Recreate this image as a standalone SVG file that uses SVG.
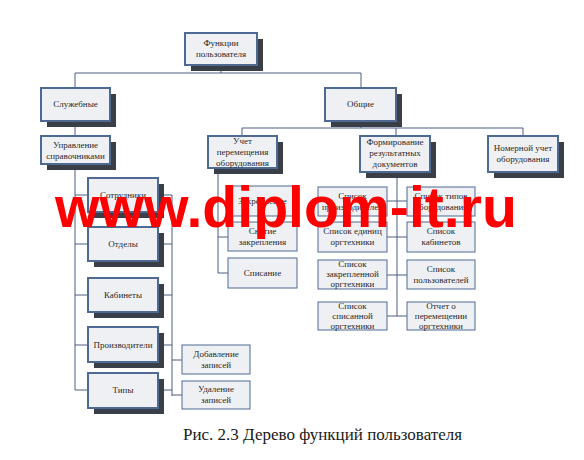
<svg xmlns="http://www.w3.org/2000/svg" width="584" height="460" viewBox="0 0 584 460">
<style>
.sh{fill:#3a3e47}
.bx{fill:#eef0f4;stroke:#4f6a92;stroke-width:2}
.lf{fill:#eef0f4;stroke:#4f6a92;stroke-width:1}
.t{font-family:"Liberation Serif","DejaVu Serif",serif;font-size:9px;fill:#2a2a2a;text-anchor:middle}
.ln{stroke:#4a5f80;stroke-width:1;fill:none}
</style>
<rect width="584" height="460" fill="#ffffff"/>
<g id="connectors" class="ln">
<path d="M221 65V73M75 73H361M75 73V88M361 73V88"/>
<path d="M75 121V136M361 121V128M242 128H523M242 128V136M396 128V136M523 128V136"/>
<path d="M75 164V390M75 195H88M75 244H88M75 295H88M75 345H88M75 390H88"/>
<path d="M164 195H172M164 244H172M164 295H172M164 345H172M164 390H172M172 195V396M172 360H182M172 395H182"/>
<path d="M218 174V273M218 201H228M218 237H228M218 273H228"/>
<path d="M397 178V316M387 201H407M387 237H407M387 275H407M387 316H407"/>
</g>
<g id="n_root"><rect class="sh" x="191" y="39" width="72" height="32"/><rect class="bx" x="185" y="33" width="72" height="32"/><text class="t" x="221" y="46">Функции</text><text class="t" x="221" y="57">пользователя</text></g>
<g id="n_sluzh"><rect class="sh" x="47" y="94" width="69" height="33"/><rect class="bx" x="41" y="88" width="69" height="33"/><text class="t" x="75.5" y="107">Служебные</text></g>
<g id="n_obsh"><rect class="sh" x="331" y="94" width="71" height="33"/><rect class="bx" x="325" y="88" width="71" height="33"/><text class="t" x="360.5" y="107">Общие</text></g>
<g id="n_upr"><rect class="sh" x="47" y="142" width="69" height="28"/><rect class="bx" x="41" y="136" width="69" height="28"/><text class="t" x="75.5" y="148">Управление</text><text class="t" x="75.5" y="159">справочниками</text></g>
<g id="n_uchet"><rect class="sh" x="214" y="142" width="69" height="32"/><rect class="bx" x="208" y="136" width="69" height="32"/><text class="t" x="242.5" y="144">Учет</text><text class="t" x="242.5" y="155">перемещения</text><text class="t" x="242.5" y="166">оборудования</text></g>
<g id="n_form"><rect class="sh" x="366" y="142" width="70" height="36"/><rect class="bx" x="360" y="136" width="70" height="36"/><text class="t" x="395" y="145">Формирование</text><text class="t" x="395" y="156">результатных</text><text class="t" x="395" y="167">документов</text></g>
<g id="n_nomer"><rect class="sh" x="494" y="142" width="70" height="36"/><rect class="bx" x="488" y="136" width="70" height="36"/><text class="t" x="523" y="151">Номерной учет</text><text class="t" x="523" y="162">оборудования</text></g>
<g id="n_sotr"><rect class="sh" x="94" y="184" width="70" height="34"/><rect class="bx" x="88" y="178" width="70" height="34"/><text class="t" x="123" y="198">Сотрудники</text></g>
<g id="n_otd"><rect class="sh" x="94" y="233" width="70" height="34"/><rect class="bx" x="88" y="227" width="70" height="34"/><text class="t" x="123" y="247">Отделы</text></g>
<g id="n_kab"><rect class="sh" x="94" y="284" width="70" height="34"/><rect class="bx" x="88" y="278" width="70" height="34"/><text class="t" x="123" y="298">Кабинеты</text></g>
<g id="n_proizv"><rect class="sh" x="94" y="333" width="70" height="35"/><rect class="bx" x="88" y="327" width="70" height="35"/><text class="t" x="123" y="348">Производители</text></g>
<g id="n_tipy"><rect class="sh" x="94" y="379" width="70" height="35"/><rect class="bx" x="88" y="373" width="70" height="35"/><text class="t" x="123" y="393">Типы</text></g>
<g id="n_dob"><rect class="lf" x="182" y="345" width="68" height="29"/><text class="t" x="216" y="357">Добавление</text><text class="t" x="216" y="368">записей</text></g>
<g id="n_udal"><rect class="lf" x="182" y="381" width="68" height="28"/><text class="t" x="216" y="392">Удаление</text><text class="t" x="216" y="403">записей</text></g>
<g id="n_zakr"><rect class="lf" x="228" y="186" width="69" height="30"/><text class="t" x="262.5" y="204">Закрепление</text></g>
<g id="n_snyat"><rect class="lf" x="228" y="222" width="69" height="29"/><text class="t" x="262.5" y="234">Снятие</text><text class="t" x="262.5" y="245">закрепления</text></g>
<g id="n_spis"><rect class="lf" x="228" y="258" width="69" height="30"/><text class="t" x="262.5" y="276">Списание</text></g>
<g id="n_l1"><rect class="lf" x="318" y="187" width="69" height="29"/><text class="t" x="352.5" y="199">Список</text><text class="t" x="352.5" y="210">производителей</text></g>
<g id="n_l2"><rect class="lf" x="318" y="222" width="69" height="30"/><text class="t" x="352.5" y="234">Список единиц</text><text class="t" x="352.5" y="245">оргтехники</text></g>
<g id="n_l3"><rect class="lf" x="318" y="260" width="69" height="29"/><text class="t" x="352.5" y="267">Список</text><text class="t" x="352.5" y="277">закрепленной</text><text class="t" x="352.5" y="287">оргтехники</text></g>
<g id="n_l4"><rect class="lf" x="318" y="302" width="69" height="28"/><text class="t" x="352.5" y="309">Список</text><text class="t" x="352.5" y="319">списанной</text><text class="t" x="352.5" y="329">оргтехники</text></g>
<g id="n_r1"><rect class="lf" x="407" y="187" width="68" height="29"/><text class="t" x="441" y="199">Список типов</text><text class="t" x="441" y="210">оборудования</text></g>
<g id="n_r2"><rect class="lf" x="407" y="222" width="68" height="30"/><text class="t" x="441" y="234">Список</text><text class="t" x="441" y="245">кабинетов</text></g>
<g id="n_r3"><rect class="lf" x="407" y="260" width="68" height="29"/><text class="t" x="441" y="272">Список</text><text class="t" x="441" y="283">пользователей</text></g>
<g id="n_r4"><rect class="lf" x="407" y="302" width="68" height="28"/><text class="t" x="441" y="309">Отчет о</text><text class="t" x="441" y="319">перемещении</text><text class="t" x="441" y="329">оргтехники</text></g>
<text x="183" y="440" font-family="'Liberation Serif','DejaVu Serif',serif" font-size="17" fill="#1a1a1a">Рис. 2.3 Дерево функций пользователя</text>
<text x="55" y="227" font-family="'Liberation Sans',Arial,sans-serif" font-weight="bold" font-size="57" fill="#ff0000" textLength="462" lengthAdjust="spacingAndGlyphs">www.diplom-it.ru</text>
</svg>
